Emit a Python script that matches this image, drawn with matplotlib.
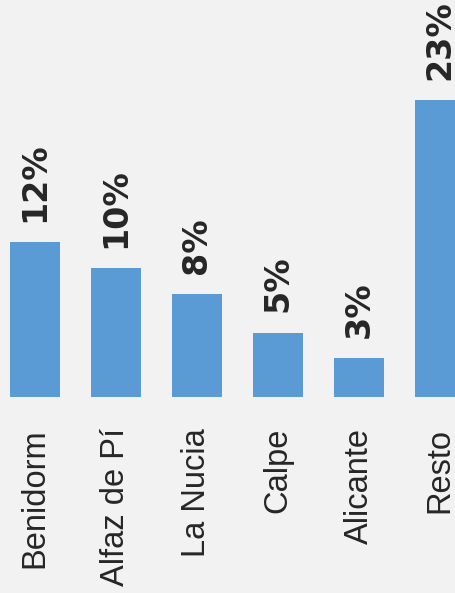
import matplotlib
matplotlib.use("Agg")
import matplotlib.pyplot as plt

categories = ["Benidorm", "Alfaz de Pí", "La Nucia", "Calpe", "Alicante", "Resto"]
shares = [12, 10, 8, 5, 3, 23]
labels = ["12%", "10%", "8%", "5%", "3%", "23%"]

W, H, DPI = 456, 593, 100
bg = "#F2F2F2"
bar_color = "#5B9BD5"
text_color = "#262626"

fig = plt.figure(figsize=(W / DPI, H / DPI), dpi=DPI, facecolor=bg)

# plot area spans full width; baseline sits at pixel row 397
base_px = 397
step_px = 81
first_center_px = 35
px_per_unit = 12.9

ax = fig.add_axes([0, (H - base_px) / H, 1, base_px / H])
ax.set_facecolor(bg)
ax.set_xlim(-first_center_px / step_px, (W - first_center_px) / step_px)
ax.set_ylim(0, base_px / px_per_unit)
ax.axis("off")

x = list(range(len(categories)))
bars = ax.bar(x, shares, width=50 / step_px, color=bar_color, zorder=2)

for xi, v, lab in zip(x, shares, labels):
    ax.annotate(lab, (xi, v), xytext=(0, 20), textcoords="offset pixels",
                rotation=90, ha="center", va="bottom", fontsize=24,
                fontweight="bold", family="DejaVu Sans", color=text_color)
    ax.annotate(categories[xi], (xi, 0), xytext=(0, -31), textcoords="offset pixels",
                rotation=90, ha="center", va="top", fontsize=23.5,
                family="Liberation Sans", color=text_color,
                annotation_clip=False)

fig.savefig("out.png", dpi=DPI, facecolor=bg)
